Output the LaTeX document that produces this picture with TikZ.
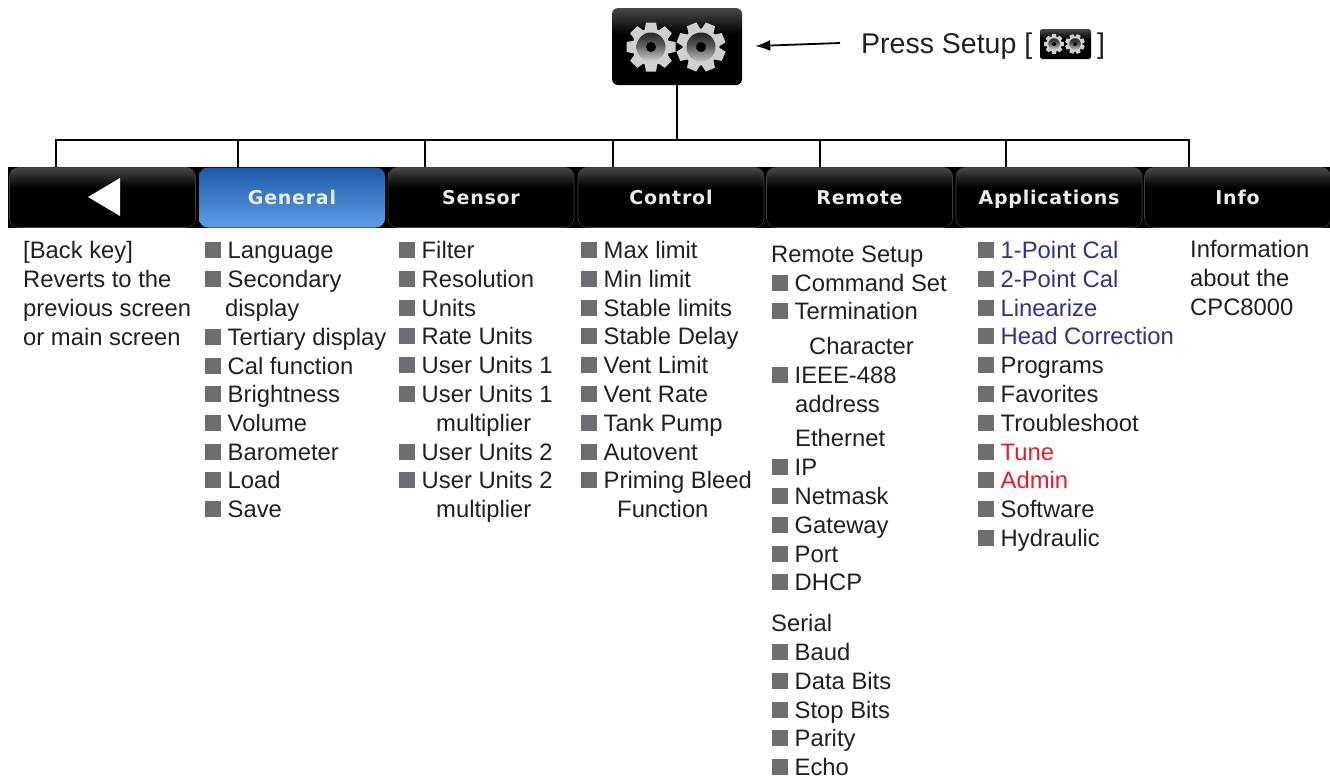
\documentclass[tikz,border=0pt]{standalone}
\usepackage{fontspec}
\usetikzlibrary{arrows.meta}
\setmainfont{Liberation Sans}
\newfontfamily\tabfont[LetterSpace=4]{DejaVu Sans}
\definecolor{inkblack}{HTML}{231F20}
\definecolor{bulgray}{HTML}{6D6E71}
\definecolor{navyitem}{HTML}{2E3192}
\definecolor{reditem}{HTML}{ED1C24}
\definecolor{tabgray}{HTML}{484848}
\definecolor{tabedge}{HTML}{3C3C3C}
\definecolor{gearlight}{HTML}{CFCFCF}
\definecolor{bluetop}{HTML}{1F5AA8}
\definecolor{bluebottom}{HTML}{5C9FE8}
\pgfdeclareverticalshading{tabshade}{100bp}{color(0bp)=(black); color(58bp)=(black); color(75bp)=(tabgray); color(100bp)=(tabgray)}
\pgfdeclareverticalshading{blueshade}{100bp}{color(0bp)=(bluebottom); color(25bp)=(bluebottom); color(75bp)=(bluetop); color(100bp)=(bluetop)}
\pgfdeclareverticalshading{dishshade}{100bp}{color(0bp)=(gearlight); color(25bp)=(gearlight); color(55bp)=(black!65); color(75bp)=(black!85); color(100bp)=(black!85)}
\newcommand{\bul}{\makebox[22.5pt][l]{\textcolor{bulgray}{\rule{16pt}{16pt}}}}
\tikzset{
  tabkey/.style={rounded corners=9pt, draw=tabedge, line width=0.6pt, shading=tabshade, minimum width=186pt, minimum height=60pt, inner sep=0pt, text=white!92!black, text height=14pt, text depth=0pt, font=\tabfont\fontsize{19}{19}\selectfont\bfseries},
  item/.style={anchor=base west, inner sep=0pt, yshift=1pt, text=inkblack, font=\fontsize{23.8}{24}\selectfont},
  link/.style={line width=2.4pt, black},
  gear/.pic={
    \foreach \a in {0,45,...,315}
      \fill[gearlight, rotate=\a] (-6.5,-16) -- (-5,-24.5) -- (5,-24.5) -- (6.5,-16) -- cycle;
    \fill[gearlight] (0,0) circle (18.5);
    \shade[shading=dishshade] (0,0) circle (14.5);
    \fill[black] (0,0) circle (5);
  }
}
\begin{document}
\begin{tikzpicture}[x=1pt,y=-1pt]
        \useasboundingbox (0,0) rectangle (1330,777);
        % setup button
        \node[rounded corners=6pt, shading=tabshade, minimum width=130pt, minimum height=77pt, inner sep=0pt] (setup) at (677,46.5) {};
        \pic at (651,47) {gear};
        \pic[rotate=22.5] at (701,47) {gear};
        \node[item, font=\fontsize{28.5}{28.5}\selectfont] (press) at (861,54) {Press Setup [};
        \node[rounded corners=2.5pt, shading=tabshade, minimum width=51pt, minimum height=30pt, inner sep=0pt] (setupsmall) at (1065.5,44) {};
        \pic[scale=0.4] at (1054,44) {gear};
        \pic[scale=0.4, rotate=22.5] at (1075,44) {gear};
        \node[item, font=\fontsize{28.5}{28.5}\selectfont] (pressend) at (1097,54) {]};
        \coordinate (presstail) at (840,43);
        \draw[-{Latex[length=15pt,width=11pt]}, line width=1.8pt, shorten >=13pt] (presstail) -- (setup.east);
        % tab strip
        \fill[black] (8,167) rectangle (1330,228);
        \node[tabkey] (back) at (102.5,197.5) {};
        \fill[white] (120,178) -- (120,216) -- (88,197) -- cycle;
        \node[tabkey, shading=blueshade, draw=none] (general) at (292,197.5) {General};
        \node[tabkey] (sensor) at (481,197.5) {Sensor};
        \node[tabkey] (control) at (671,197.5) {Control};
        \node[tabkey] (remote) at (859.5,197.5) {Remote};
        \node[tabkey] (applications) at (1049,197.5) {Applications};
        \node[tabkey] (info) at (1237.5,197.5) {Info};
        % tree
        \coordinate (busleft) at (56,140);
        \coordinate (busright) at (1189,140);
        \draw[link] (setup.south) -- (setup.south |- busleft);
        \draw[link, line cap=rect] (busleft) -- (busright);
        \foreach \x/\t in {56/back,238/general,425/sensor,613/control,820/remote,1006/applications,1189/info}
            \draw[link] (\x,140) -- (\x,0 |- \t.north);
        % back key
        \foreach \y/\t in {259/{[Back key]},288/Reverts to the,317/previous screen,346/or main screen}
            \node[item] (backtext\y) at (23,\y) {\t};
        % general
        \foreach \y/\t in {259/Language,288/Secondary,346/Tertiary display,375/Cal function,403/Brightness,432/Volume,461/Barometer,489/Load,518/Save}
            \node[item] (generaltext\y) at (205,\y) {\bul\t};
        \node[item] (generaltext317) at (225,317) {display};
        % sensor
        \foreach \y/\t in {259/Filter,288/Resolution,317/Units,345/Rate Units,374/User Units 1,403/User Units 1,461/User Units 2,489/User Units 2}
            \node[item] (sensortext\y) at (399,\y) {\bul\t};
        \foreach \y in {432,518}
            \node[item] (sensormult\y) at (436,\y) {multiplier};
        % control
        \foreach \y/\t in {259/Max limit,288/Min limit,317/Stable limits,345/Stable Delay,374/Vent Limit,403/Vent Rate,432/Tank Pump,461/Autovent,489/Priming Bleed}
            \node[item] (controltext\y) at (581,\y) {\bul\t};
        \node[item] (controltext518) at (617,518) {Function};
        % remote
        \foreach \y/\t in {263/Remote Setup,632/Serial}
            \node[item] (remotehead\y) at (771,\y) {\t};
        \foreach \y/\t in {292/Command Set,320/Termination,384/IEEE-488,476/IP,505/Netmask,534/Gateway,563/Port,591/DHCP,661/Baud,690/Data Bits,719/Stop Bits,747/Parity,776/Echo}
            \node[item] (remotetext\y) at (772,\y) {\bul\t};
        \node[item] (remotetext355) at (809,355) {Character};
        \foreach \y/\t in {413/address,447/Ethernet}
            \node[item] (remotetext\y) at (795,\y) {\t};
        % applications
        \foreach \y/\t/\c in {259/1-Point Cal/navyitem,288/2-Point Cal/navyitem,317/Linearize/navyitem,345/Head Correction/navyitem,374/Programs/inkblack,403/Favorites/inkblack,432/Troubleshoot/inkblack,461/Tune/reditem,489/Admin/reditem,518/Software/inkblack,547/Hydraulic/inkblack}
            \node[item, text=\c] (appstext\y) at (978,\y) {\bul\t};
        % info
        \foreach \y/\t in {258/Information,287/about the,316/CPC8000}
            \node[item] (infotext\y) at (1190,\y) {\t};
\end{tikzpicture}
\end{document}
